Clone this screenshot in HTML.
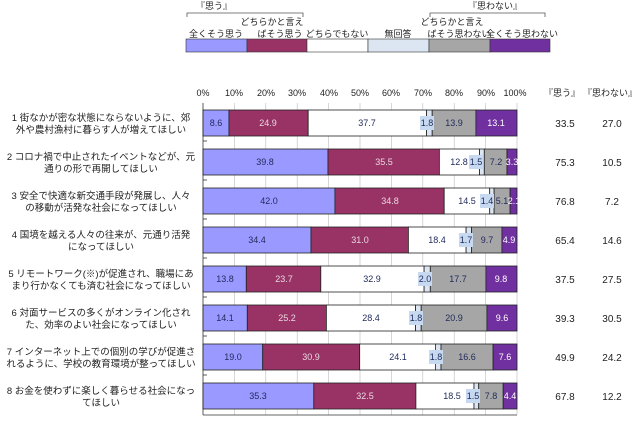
<!DOCTYPE html>
<html><head><meta charset="utf-8"><style>
body{margin:0;background:#fff;}
svg{display:block;font-family:"Liberation Sans","Noto Sans CJK JP",sans-serif;}
</style></head><body>
<svg width="640" height="436" viewBox="0 0 640 436" xmlns="http://www.w3.org/2000/svg">
<!-- legend -->
<g font-size="9" fill="#222">
<text x="214" y="9" text-anchor="middle">『思う』</text>
<path d="M187 17 V13 H303 V17" fill="none" stroke="#555" stroke-width="0.8"/>
<text x="495" y="9" text-anchor="middle">『思わない』</text>
<path d="M430 17 V13 H545 V17" fill="none" stroke="#555" stroke-width="0.8"/>
<text x="216" y="37" text-anchor="middle">全くそう思う</text>
<text x="272" y="25" text-anchor="middle">どちらかと言え</text>
<text x="280" y="37" text-anchor="middle">ばそう思う</text>
<text x="337" y="37" text-anchor="middle">どちらでもない</text>
<text x="398" y="37" text-anchor="middle">無回答</text>
<text x="452" y="25" text-anchor="middle">どちらかと言え</text>
<text x="459" y="37" text-anchor="middle">ばそう思わない</text>
<text x="522" y="37" text-anchor="middle">全くそう思わない</text>
</g>
<g stroke="#333" stroke-width="0.6">
<rect x="186" y="39" width="61" height="13" fill="#9999ff"/>
<rect x="247" y="39" width="60" height="13" fill="#993366"/>
<rect x="307" y="39" width="61" height="13" fill="#ffffff"/>
<rect x="368" y="39" width="61" height="13" fill="#dce6f2"/>
<rect x="429" y="39" width="61" height="13" fill="#a6a6a6"/>
<rect x="490" y="39" width="60" height="13" fill="#7030a0"/>
</g>
<!-- axis labels -->
<g font-size="9" fill="#222" text-anchor="middle">
<text x="203" y="96">0%</text><text x="234" y="96">10%</text><text x="266" y="96">20%</text><text x="297" y="96">30%</text><text x="329" y="96">40%</text><text x="360" y="96">50%</text><text x="391" y="96">60%</text><text x="423" y="96">70%</text><text x="454" y="96">80%</text><text x="486" y="96">90%</text><text x="515" y="96">100%</text>
<text x="562" y="96">『思う』</text><text x="610" y="96">『思わない』</text>
</g>
<!-- grid -->
<g stroke="#bbb" stroke-width="0.6">
<line x1="234.4" y1="103" x2="234.4" y2="415"/><line x1="265.8" y1="103" x2="265.8" y2="415"/><line x1="297.2" y1="103" x2="297.2" y2="415"/><line x1="328.6" y1="103" x2="328.6" y2="415"/><line x1="360" y1="103" x2="360" y2="415"/><line x1="391.4" y1="103" x2="391.4" y2="415"/><line x1="422.8" y1="103" x2="422.8" y2="415"/><line x1="454.2" y1="103" x2="454.2" y2="415"/><line x1="485.6" y1="103" x2="485.6" y2="415"/><line x1="517" y1="103" x2="517" y2="415"/>
</g>
<g stroke="#333" stroke-width="0.8">
<line x1="203" y1="103" x2="203" y2="415"/><line x1="203" y1="415" x2="517" y2="415"/>
<line x1="203" y1="141" x2="207" y2="141"/><line x1="203" y1="180" x2="207" y2="180"/><line x1="203" y1="219" x2="207" y2="219"/><line x1="203" y1="258" x2="207" y2="258"/><line x1="203" y1="297" x2="207" y2="297"/><line x1="203" y1="336" x2="207" y2="336"/><line x1="203" y1="375" x2="207" y2="375"/>
</g>
<!-- bars -->
<g stroke="#222" stroke-width="0.8">
<rect x="203" y="110" width="26" height="26" fill="#9999ff"/><rect x="229" y="110" width="79.2" height="26" fill="#993366"/><rect x="308.2" y="110" width="118.4" height="26" fill="#fff"/><rect x="426.6" y="110" width="5.6" height="26" fill="#dce6f2"/><rect x="432.2" y="110" width="43.7" height="26" fill="#a6a6a6"/><rect x="475.9" y="110" width="41.1" height="26" fill="#7030a0"/>
<rect x="203" y="149" width="125" height="26" fill="#9999ff"/><rect x="328" y="149" width="111.4" height="26" fill="#993366"/><rect x="439.4" y="149" width="40.2" height="26" fill="#fff"/><rect x="479.6" y="149" width="4.7" height="26" fill="#dce6f2"/><rect x="484.3" y="149" width="22.7" height="26" fill="#a6a6a6"/><rect x="507" y="149" width="10" height="26" fill="#7030a0"/>
<rect x="203" y="188" width="131.9" height="26" fill="#9999ff"/><rect x="334.9" y="188" width="109.3" height="26" fill="#993366"/><rect x="444.2" y="188" width="45.5" height="26" fill="#fff"/><rect x="489.7" y="188" width="4.4" height="26" fill="#dce6f2"/><rect x="494.1" y="188" width="16" height="26" fill="#a6a6a6"/><rect x="510.1" y="188" width="6.9" height="26" fill="#7030a0"/>
<rect x="203" y="227" width="108" height="26" fill="#9999ff"/><rect x="311" y="227" width="97.4" height="26" fill="#993366"/><rect x="408.4" y="227" width="57.7" height="26" fill="#fff"/><rect x="466.1" y="227" width="5.4" height="26" fill="#dce6f2"/><rect x="471.5" y="227" width="30.4" height="26" fill="#a6a6a6"/><rect x="501.9" y="227" width="15.1" height="26" fill="#7030a0"/>
<rect x="203" y="266" width="43.3" height="26" fill="#9999ff"/><rect x="246.3" y="266" width="74.5" height="26" fill="#993366"/><rect x="320.8" y="266" width="103.3" height="26" fill="#fff"/><rect x="424.1" y="266" width="6.2" height="26" fill="#dce6f2"/><rect x="430.3" y="266" width="55.6" height="26" fill="#a6a6a6"/><rect x="485.9" y="266" width="31.1" height="26" fill="#7030a0"/>
<rect x="203" y="305" width="44.3" height="26" fill="#9999ff"/><rect x="247.3" y="305" width="79.1" height="26" fill="#993366"/><rect x="326.4" y="305" width="89.2" height="26" fill="#fff"/><rect x="415.6" y="305" width="5.6" height="26" fill="#dce6f2"/><rect x="421.2" y="305" width="65.7" height="26" fill="#a6a6a6"/><rect x="486.9" y="305" width="30.1" height="26" fill="#7030a0"/>
<rect x="203" y="344" width="59.7" height="26" fill="#9999ff"/><rect x="262.7" y="344" width="97" height="26" fill="#993366"/><rect x="359.7" y="344" width="75.7" height="26" fill="#fff"/><rect x="435.4" y="344" width="5.6" height="26" fill="#dce6f2"/><rect x="441" y="344" width="52.1" height="26" fill="#a6a6a6"/><rect x="493.1" y="344" width="23.9" height="26" fill="#7030a0"/>
<rect x="203" y="383" width="110.8" height="26" fill="#9999ff"/><rect x="313.8" y="383" width="102.1" height="26" fill="#993366"/><rect x="415.9" y="383" width="58.1" height="26" fill="#fff"/><rect x="474" y="383" width="4.7" height="26" fill="#dce6f2"/><rect x="478.7" y="383" width="24.5" height="26" fill="#a6a6a6"/><rect x="503.2" y="383" width="13.8" height="26" fill="#7030a0"/>
</g>
<!-- no-answer label boxes -->
<g fill="#c6d9f0">
<rect x="420" y="116" width="14" height="14"/><rect x="469" y="155" width="14" height="14"/><rect x="480" y="194" width="14" height="14"/><rect x="459" y="233" width="14" height="14"/><rect x="418" y="272" width="14" height="14"/><rect x="409" y="311" width="14" height="14"/><rect x="429" y="350" width="14" height="14"/><rect x="466" y="389" width="14" height="14"/>
</g>
<!-- value labels -->
<g font-size="9" text-anchor="middle">
<g fill="#1f2a5a">
<text x="216" y="126">8.6</text><text x="367" y="126">37.7</text><text x="427" y="126">1.8</text><text x="454" y="126">13.9</text>
<text x="265" y="165">39.8</text><text x="459" y="165">12.8</text><text x="476" y="165">1.5</text><text x="496" y="165">7.2</text>
<text x="269" y="204">42.0</text><text x="467" y="204">14.5</text><text x="487" y="204">1.4</text><text x="502" y="204">5.1</text>
<text x="257" y="243">34.4</text><text x="437" y="243">18.4</text><text x="466" y="243">1.7</text><text x="487" y="243">9.7</text>
<text x="225" y="282">13.8</text><text x="372" y="282">32.9</text><text x="425" y="282">2.0</text><text x="458" y="282">17.7</text>
<text x="225" y="321">14.1</text><text x="371" y="321">28.4</text><text x="416" y="321">1.8</text><text x="454" y="321">20.9</text>
<text x="233" y="360">19.0</text><text x="398" y="360">24.1</text><text x="436" y="360">1.8</text><text x="467" y="360">16.6</text>
<text x="258" y="399">35.3</text><text x="452" y="399">18.5</text><text x="473" y="399">1.5</text><text x="491" y="399">7.8</text>
</g>
<g fill="#e8d8e0">
<text x="268" y="126">24.9</text><text x="384" y="165">35.5</text><text x="390" y="204">34.8</text><text x="360" y="243">31.0</text><text x="284" y="282">23.7</text><text x="287" y="321">25.2</text><text x="311" y="360">30.9</text><text x="365" y="399">32.5</text>
</g>
<g fill="#fff">
<text x="496" y="126">13.1</text><text x="512" y="165">3.3</text><text x="514" y="204">2.1</text><text x="509" y="243">4.9</text><text x="501" y="282">9.8</text><text x="502" y="321">9.6</text><text x="505" y="360">7.6</text><text x="510" y="399">4.4</text>
</g>
</g>
<!-- right values -->
<g font-size="10" fill="#222" text-anchor="middle">
<text x="565" y="127">33.5</text><text x="612" y="127">27.0</text>
<text x="565" y="166">75.3</text><text x="612" y="166">10.5</text>
<text x="565" y="205">76.8</text><text x="612" y="205">7.2</text>
<text x="565" y="244">65.4</text><text x="612" y="244">14.6</text>
<text x="565" y="283">37.5</text><text x="612" y="283">27.5</text>
<text x="565" y="322">39.3</text><text x="612" y="322">30.5</text>
<text x="565" y="361">49.9</text><text x="612" y="361">24.2</text>
<text x="565" y="400">67.8</text><text x="612" y="400">12.2</text>
</g>
<!-- row labels -->
<g font-size="9.5" fill="#222" text-anchor="middle">
<text x="101" y="121">1  街なかが密な状態にならないように、郊</text><text x="101" y="133">外や農村漁村に暮らす人が増えてほしい</text>
<text x="101" y="160">2  コロナ禍で中止されたイベントなどが、元</text><text x="101" y="172">通りの形で再開してほしい</text>
<text x="101" y="199">3  安全で快適な新交通手段が発展し、人々</text><text x="101" y="211">の移動が活発な社会になってほしい</text>
<text x="101" y="238">4  国境を越える人々の往来が、元通り活発</text><text x="101" y="250">になってほしい</text>
<text x="101" y="277">5  リモートワーク(※)が促進され、職場にあ</text><text x="101" y="289">まり行かなくても済む社会になってほしい</text>
<text x="101" y="316">6  対面サービスの多くがオンライン化され</text><text x="101" y="328">た、効率のよい社会になってほしい</text>
<text x="101" y="355">7  インターネット上での個別の学びが促進さ</text><text x="101" y="367">れるように、学校の教育環境が整ってほしい</text>
<text x="101" y="394">8  お金を使わずに楽しく暮らせる社会になっ</text><text x="101" y="406">てほしい</text>
</g>
</svg>
</body></html>
